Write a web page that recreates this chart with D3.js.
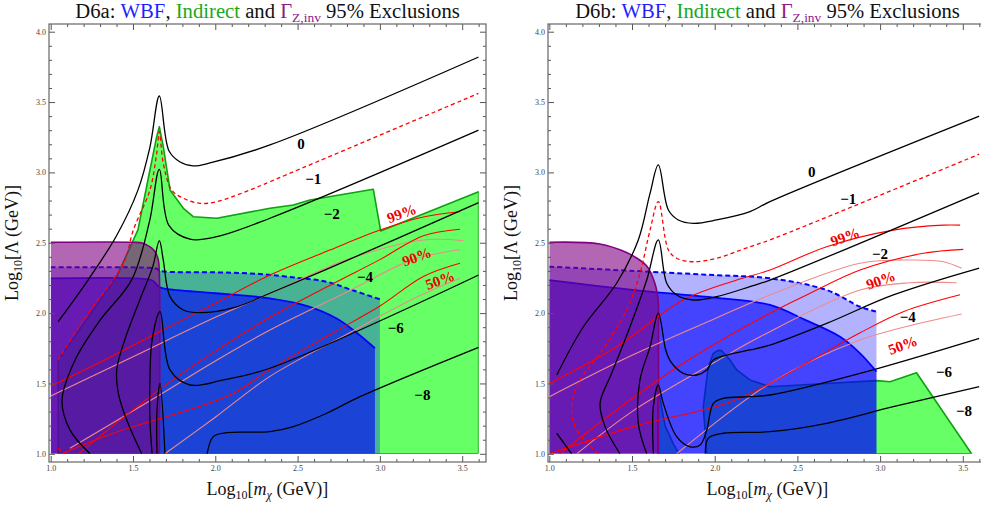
<!DOCTYPE html>
<html><head><meta charset="utf-8">
<script src="https://cdn.jsdelivr.net/npm/d3@7"></script>
<style>body{margin:0;background:#fff}svg{display:block}</style>
</head><body>
<svg id="c" width="981" height="508"></svg>
<script>
// ---------- tick labels ----------
const xMajor=[1.0,1.5,2.0,2.5,3.0,3.5];
const yMajor=[1.0,1.5,2.0,2.5,3.0,3.5,4.0];
const xMinor=[1.1,1.2,1.3,1.4,1.6,1.7,1.8,1.9,2.1,2.2,2.3,2.4,2.6,2.7,2.8,2.9,3.1,3.2,3.3,3.4,3.6];
const yMinor=[1.1,1.2,1.3,1.4,1.6,1.7,1.8,1.9,2.1,2.2,2.3,2.4,2.6,2.7,2.8,2.9,3.1,3.2,3.3,3.4,3.6,3.7,3.8,3.9];

// ---------- panel D6a ----------
const aGreen=[[1.046,1.0],[1.046,1.667],[1.401,2.259],[1.53,2.591],[1.603,3.017],[1.644,3.254],[1.66,3.325],[1.684,3.183],[1.725,2.875],[1.806,2.745],[1.866,2.685],[2.009,2.674],[2.332,2.745],[2.474,2.768],[2.575,2.804],[2.96,2.88],[3.005,2.583],[3.6,2.863],[3.6,1.0]];
const aWbfLight=[[1.0,2.326],[1.6,2.322],[1.645,2.315],[1.665,2.30],[2.0,2.29],[2.272,2.278],[2.5,2.25],[2.677,2.223],[2.83,2.164],[3.0,2.098]];
const aWbfSolid=[[1.0,2.247],[1.55,2.245],[1.62,2.23],[1.66,2.185],[1.70,2.172],[2.0,2.141],[2.33,2.105],[2.56,2.05],[2.74,1.96],[2.87,1.85],[2.97,1.75]];
const aZinv=[[1.0,2.503],[1.5,2.503],[1.56,2.497],[1.583,2.484],[1.61,2.465],[1.634,2.436],[1.654,2.377],[1.66,2.28],[1.66,1.0]];
const aC0=[[1.044,1.937],[1.227,2.235],[1.40,2.55],[1.53,2.874],[1.603,3.18],[1.66,3.543],[1.719,3.152],[1.786,3.074],[1.865,3.046],[1.968,3.067],[2.332,3.195],[3.6,3.82]];
const aCm1=[[1.046,1.667],[1.198,1.951],[1.38,2.236],[1.451,2.377],[1.502,2.591],[1.603,2.875],[1.644,3.136],[1.66,3.289],[1.684,3.065],[1.735,2.875],[1.806,2.816],[1.907,2.78],[2.009,2.792],[2.211,2.875],[2.332,2.934],[3.6,3.562]];
const aCm1b=[[1.046,1.04],[1.077,1.0]];
const aC2=[[1.239,1.0],[1.117,1.17],[1.069,1.38],[1.148,1.667],[1.30,1.95],[1.492,2.236],[1.60,2.65],[1.66,3.022],[1.719,2.621],[1.846,2.525],[2.009,2.543],[2.332,2.674],[3.6,3.30]];
const aC4=[[1.553,1.0],[1.462,1.24],[1.411,1.43],[1.401,1.596],[1.45,1.81],[1.54,2.09],[1.62,2.33],[1.66,2.515],[1.684,2.377],[1.725,2.117],[1.806,2.022],[1.907,2.003],[2.13,2.045],[2.332,2.141],[2.668,2.307],[3.6,2.785]];
const aC6=[[1.616,1.0],[1.603,1.24],[1.603,1.53],[1.616,1.81],[1.664,2.01],[1.725,1.596],[1.846,1.489],[2.049,1.525],[2.332,1.608],[3.6,2.271]];
const aC8=[[1.646,1.0],[1.646,1.31],[1.664,1.50],[1.694,1.0]];
const aC8b=[[1.95,1.0],[1.988,1.122],[2.069,1.15],[2.332,1.157],[2.474,1.193],[2.677,1.288],[2.879,1.406],[3.6,1.757]];
const aR1=[[1.0,1.48],[1.3,1.65],[1.664,1.87],[2.0,2.07],[2.332,2.27],[2.7,2.45],[3.0,2.59],[3.25,2.68],[3.486,2.72]];
const aP1=[[1.0,1.41],[1.5,1.69],[2.0,1.97],[2.332,2.14],[2.8,2.38],[3.264,2.52],[3.507,2.515]];
const aR2=[[1.168,1.0],[1.664,1.46],[2.0,1.73],[2.332,1.97],[2.7,2.2],[3.0,2.38],[3.264,2.55],[3.486,2.596]];
const aP2=[[1.117,1.04],[1.664,1.42],[2.0,1.66],[2.332,1.88],[2.8,2.15],[3.2,2.38],[3.486,2.45]];
const aR3=[[1.067,1.0],[1.38,1.146],[2.089,1.418],[2.332,1.6],[2.7,1.85],[3.0,2.05],[3.264,2.26],[3.486,2.354]];
const aP3=[[1.694,1.0],[2.0,1.26],[2.332,1.55],[2.8,1.85],[3.2,2.1],[3.486,2.247]];
const aContourLabels=[["0",2.521,3.202],["\u22121",2.595,2.958],["\u22122",2.707,2.709],["\u22124",2.909,2.259],["\u22126",3.096,1.896],["\u22128",3.258,1.418]];
const aCLLabels=[["99%",3.132,2.709],["90%",3.224,2.401],["50%",3.365,2.235]];

// ---------- panel D6b ----------
const bGreen=[[1.952,1.0],[1.931,1.335],[1.961,1.619],[1.992,1.714],[2.02,1.735],[2.042,1.733],[2.092,1.667],[2.133,1.596],[2.213,1.525],[2.334,1.477],[2.98,1.52],[3.06,1.512],[3.22,1.576],[3.553,1.0]];
const bGreen2=[[1.655,1.0],[1.658,1.49],[1.68,1.32],[1.70,1.20],[1.75,1.07],[1.785,1.0]];
const bWbfLight=[[1.0,2.33],[1.608,2.294],[2.0,2.27],[2.334,2.247],[2.677,2.164],[2.879,2.045],[2.978,2.01]];
const bWbfSolid=[[1.0,2.235],[1.608,2.152],[2.0,2.11],[2.334,2.058],[2.55,1.95],[2.758,1.832],[2.879,1.714],[2.978,1.584]];
const bZinv=[[1.0,2.503],[1.305,2.491],[1.467,2.431],[1.53,2.39],[1.588,2.337],[1.638,2.212],[1.658,2.09],[1.66,1.9],[1.66,1.0]];
const bC0=[[1.045,1.56],[1.206,1.903],[1.407,2.212],[1.538,2.52],[1.609,2.851],[1.659,3.053],[1.72,2.733],[1.78,2.662],[1.871,2.638],[2.012,2.662],[2.213,2.721],[2.334,2.792],[3.6,3.40]];
const bC0b=[[1.045,1.146],[1.135,1.0]];
const bCm1=[[1.296,1.0],[1.166,1.169],[1.135,1.335],[1.186,1.525],[1.307,1.714],[1.468,2.022],[1.548,2.283],[1.609,2.59],[1.659,2.792],[1.72,2.449],[1.77,2.39],[1.871,2.365],[2.012,2.39],[2.213,2.472],[2.334,2.52],[3.6,3.13]];
const bC2=[[1.427,1.0],[1.337,1.193],[1.307,1.359],[1.377,1.572],[1.488,1.903],[1.589,2.235],[1.659,2.52],[1.71,2.212],[1.77,2.129],[1.871,2.093],[2.012,2.117],[2.213,2.188],[2.334,2.235],[3.6,2.855]];
const bC4=[[1.589,1.0],[1.538,1.217],[1.548,1.525],[1.609,1.761],[1.659,1.999],[1.704,1.738],[1.734,1.655],[1.81,1.572],[1.891,1.56],[1.952,1.596],[1.992,1.667],[2.073,1.702],[2.213,1.738],[2.334,1.773],[2.677,1.927],[3.08,2.129],[3.6,2.32]];
const bC6=[[1.629,1.0],[1.629,1.335],[1.659,1.489],[1.689,1.359],[1.77,1.122],[1.851,1.05],[1.912,1.063],[1.952,1.169],[1.992,1.359],[2.052,1.394],[2.213,1.406],[2.334,1.418],[2.879,1.572],[3.6,1.821]];
const bC8=[[1.943,1.0],[1.961,1.11],[2.052,1.146],[2.334,1.157],[2.677,1.217],[3.08,1.335],[3.6,1.477]];
const bR1=[[1.0,1.50],[1.407,1.761],[1.81,2.093],[2.133,2.235],[2.334,2.306],[2.677,2.472],[3.08,2.59],[3.383,2.625],[3.484,2.625]];
const bP1=[[1.0,1.406],[1.5,1.7],[2.0,1.96],[2.334,2.129],[2.879,2.354],[3.18,2.377],[3.383,2.365],[3.493,2.318]];
const bR2=[[1.064,1.0],[1.407,1.311],[1.81,1.643],[2.334,1.999],[2.577,2.141],[2.879,2.306],[3.261,2.425],[3.503,2.453]];
const bP2=[[1.166,1.0],[1.5,1.3],[2.0,1.65],[2.274,1.832],[2.879,2.164],[3.18,2.216],[3.463,2.216]];
const bR3=[[1.0,1.0],[1.508,1.193],[2.073,1.36],[2.334,1.5],[2.577,1.66],[2.879,1.86],[3.14,2.01],[3.483,2.13]];
const bP3=[[1.77,1.0],[2.334,1.5],[2.879,1.809],[3.493,1.994]];
const bContourLabels=[["0",2.586,3.005],["\u22121",2.808,2.816],["\u22122",2.999,2.425],["\u22124",3.167,1.974],["\u22126",3.386,1.584],["\u22128",3.507,1.306]];
const bCLLabels=[["99%",2.788,2.543],["90%",3.004,2.235],["50%",3.137,1.773]];

// ---------- drawing ----------
const svg=d3.select('#c');
const SERIF='"Liberation Serif","Times New Roman",serif';
const yDom=[0.9417,4.0547], yRng=[462,24];
const panels=[
 {key:'a',name:'D6a',xr:[49,486],xd:[0.9897,3.6446],
  green:[aGreen],light:aWbfLight,solid:aWbfSolid,zinv:aZinv,
  black:[aC0,aC2,aC4,aC6,aC8,aC8b],dashed:[aCm1,aCm1b],
  red:[aR1,aR2,aR3],pink:[aP1,aP2,aP3],cl:aContourLabels,pl:aCLLabels},
 {key:'b',name:'D6b',xr:[548,987],xd:[0.9921,3.6463],
  green:[bGreen,bGreen2],light:bWbfLight,solid:bWbfSolid,zinv:bZinv,
  black:[bC0,bC0b,bC2,bC4,bC6,bC8],dashed:[bCm1],
  red:[bR1,bR2,bR3],pink:[bP1,bP2,bP3],cl:bContourLabels,pl:bCLLabels}
];
const FLOOR=1.0;
const TITLE_W=383;

panels.forEach(p=>{
 const xs=d3.scaleLinear().domain(p.xd).range(p.xr);
 const ys=d3.scaleLinear().domain(yDom).range(yRng);
 const g=svg.append('g');
 const cid='clip-'+p.key;
 svg.append('defs').append('clipPath').attr('id',cid).append('rect')
   .attr('x',xs(1.0)).attr('y',ys(4.0)).attr('width',xs(3.6)-xs(1.0)).attr('height',ys(1.0)-ys(4.0));
 const d=g.append('g').attr('clip-path',`url(#${cid})`);
 const lin=d3.line().x(v=>xs(v[0])).y(v=>ys(v[1]));
 const cur=d3.line().x(v=>xs(v[0])).y(v=>ys(v[1])).curve(d3.curveCatmullRom.alpha(0.5));
 const area=top=>cur(top)+`L${xs(top[top.length-1][0])},${ys(FLOOR)}L${xs(top[0][0])},${ys(FLOOR)}Z`;

 p.green.forEach(poly=>{
   d.append('path').attr('d',lin(poly)+'Z').attr('fill','#66ff66').attr('stroke','#10a010').attr('stroke-width',1.6).attr('stroke-linejoin','round');
 });
 d.append('path').attr('d',area(p.light)).attr('fill','rgba(0,0,255,0.3)');
 d.append('path').attr('d',area(p.solid)).attr('fill','rgba(0,0,255,0.62)');
 d.append('path').attr('d',cur(p.light)).attr('fill','none').attr('stroke','#0000ff').attr('stroke-width',2).attr('stroke-dasharray','5,3');
 d.append('path').attr('d',cur(p.solid)).attr('fill','none').attr('stroke','#0000ff').attr('stroke-width',1.8);
 const zt=p.zinv;
 d.append('path').attr('d',cur(zt)+`L${xs(zt[0][0])},${ys(FLOOR)}Z`).attr('fill','rgba(128,0,128,0.6)');
 d.append('path').attr('d',cur(zt)).attr('fill','none').attr('stroke','#800080').attr('stroke-width',1.6);
 p.pink.forEach(l=>d.append('path').attr('d',cur(l)).attr('fill','none').attr('stroke','#f08a8a').attr('stroke-width',1.1));
 p.red.forEach(l=>d.append('path').attr('d',cur(l)).attr('fill','none').attr('stroke','#ff0000').attr('stroke-width',1.1));
 p.black.forEach(l=>d.append('path').attr('d',cur(l)).attr('fill','none').attr('stroke','#000').attr('stroke-width',1.3));
 p.dashed.forEach(l=>d.append('path').attr('d',cur(l)).attr('fill','none').attr('stroke','#ff0000').attr('stroke-width',1.3).attr('stroke-dasharray','4,3'));
 p.cl.forEach(l=>d.append('text').attr('x',xs(l[1])).attr('y',ys(l[2])).attr('dy','0.35em').attr('text-anchor','middle')
   .style('font-family',SERIF).style('font-weight','bold').style('font-size','15px').text(l[0]));
 p.pl.forEach(l=>d.append('text').attr('transform',`translate(${xs(l[1])},${ys(l[2])}) rotate(-20)`).attr('dy','0.35em').attr('text-anchor','middle')
   .style('font-family',SERIF).style('font-weight','bold').style('font-size','15px').attr('fill','#ee0000').text(l[0]));

 const fr=g.append('g');
 const axStyle=sel=>{sel.select('.domain').remove();sel.selectAll('line').attr('stroke','#555');
   sel.selectAll('text').style('font-family',SERIF).style('font-size','8px').attr('fill','#444');};
 const fmt=d3.format('.1f');
 fr.append('g').attr('transform',`translate(0,${yRng[0]})`).call(d3.axisBottom(xs).tickValues(xMajor).tickSize(-6).tickPadding(3).tickFormat(fmt)).call(axStyle);
 fr.append('g').attr('transform',`translate(0,${yRng[0]})`).call(d3.axisBottom(xs).tickValues(xMinor).tickSize(-3).tickFormat('')).call(axStyle);
 fr.append('g').attr('transform',`translate(0,${yRng[1]})`).call(d3.axisTop(xs).tickValues(xMajor).tickSize(-6).tickFormat('')).call(axStyle);
 fr.append('g').attr('transform',`translate(0,${yRng[1]})`).call(d3.axisTop(xs).tickValues(xMinor).tickSize(-3).tickFormat('')).call(axStyle);
 fr.append('g').attr('transform',`translate(${p.xr[0]},0)`).call(d3.axisLeft(ys).tickValues(yMajor).tickSize(-6).tickPadding(3).tickFormat(fmt)).call(axStyle);
 fr.append('g').attr('transform',`translate(${p.xr[0]},0)`).call(d3.axisLeft(ys).tickValues(yMinor).tickSize(-3).tickFormat('')).call(axStyle);
 fr.append('g').attr('transform',`translate(${p.xr[1]},0)`).call(d3.axisRight(ys).tickValues(yMajor).tickSize(-6).tickFormat('')).call(axStyle);
 fr.append('g').attr('transform',`translate(${p.xr[1]},0)`).call(d3.axisRight(ys).tickValues(yMinor).tickSize(-3).tickFormat('')).call(axStyle);
 fr.append('rect').attr('x',p.xr[0]).attr('y',yRng[1]).attr('width',p.xr[1]-p.xr[0]).attr('height',yRng[0]-yRng[1])
   .attr('fill','none').attr('stroke','#666').attr('stroke-width',1.2);

 // title
 const cx=(p.xr[0]+p.xr[1])/2;
 const tg=svg.append('g').attr('transform',`translate(${cx},18)`);
 const t=tg.append('text').attr('x',0).attr('y',0).attr('text-anchor','middle').style('font-family',SERIF).style('font-size','20px').attr('fill','#111');
 t.append('tspan').text(p.name+': ');
 t.append('tspan').attr('fill','#1f1fff').text('WBF');
 t.append('tspan').text(', ');
 t.append('tspan').attr('fill','#18a818').text('Indirect');
 t.append('tspan').text(' and ');
 t.append('tspan').attr('fill','#8b1a8b').text('\u0393');
 t.append('tspan').attr('fill','#8b1a8b').style('font-size','13px').attr('dy',4).text('Z,inv');
 t.append('tspan').attr('dy',-4).text(' 95% Exclusions');
 const tw=t.node().getBBox().width;
 t.attr('transform',`scale(${TITLE_W/tw},1)`);

 const xt=svg.append('text').attr('x',cx).attr('y',495).attr('text-anchor','middle').style('font-family',SERIF).style('font-size','18px').attr('fill','#111');
 xt.append('tspan').text('Log');
 xt.append('tspan').style('font-size','12px').attr('dy',4).text('10');
 xt.append('tspan').attr('dy',-4).text('[');
 xt.append('tspan').style('font-style','italic').text('m');
 xt.append('tspan').style('font-size','12px').style('font-style','italic').attr('dy',4).text('\u03c7');
 xt.append('tspan').attr('dy',-4).text(' (GeV)]');
 const yx=p.xr[0]-31, yc=(yRng[0]+yRng[1])/2;
 const yt=svg.append('text').attr('transform',`translate(${yx},${yc}) rotate(-90)`).attr('text-anchor','middle').style('font-family',SERIF).style('font-size','18px').attr('fill','#111');
 yt.append('tspan').text('Log');
 yt.append('tspan').style('font-size','12px').attr('dy',4).text('10');
 yt.append('tspan').attr('dy',-4).text('[\u039b (GeV)]');
});
</script>
</body></html>
